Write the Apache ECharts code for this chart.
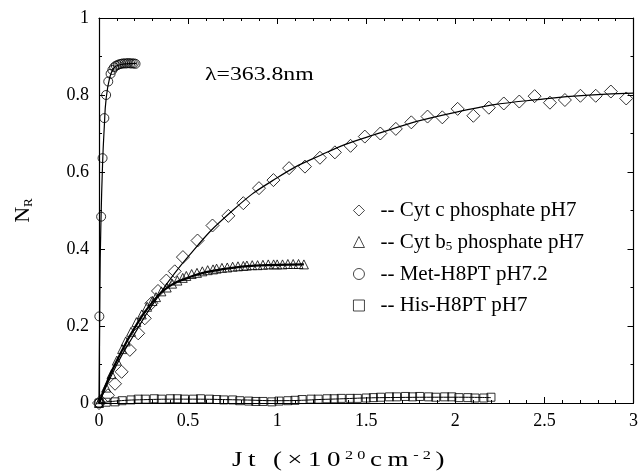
<!DOCTYPE html>
<html><head><meta charset="utf-8">
<script src="https://cdn.jsdelivr.net/npm/echarts@6/dist/echarts.min.js"></script>
<style>html,body{margin:0;padding:0;background:#fff}#c{width:641px;height:475px}</style>
</head><body><div id="c"></div>
<script>
// ---- data ----
const cytcX = [0.00,0.05,0.09,0.127,0.173,0.220,0.257,0.294,0.331,0.378,0.425,0.471,0.553,0.637,0.726,0.810,0.898,0.979,1.067,1.156,1.240,1.324,1.412,1.492,1.579,1.666,1.753,1.844,1.927,2.013,2.101,2.188,2.272,2.359,2.445,2.531,2.615,2.702,2.788,2.873,2.959];
const cytcY = [0.000,0.020,0.050,0.081,0.138,0.181,0.220,0.259,0.291,0.318,0.342,0.379,0.422,0.461,0.486,0.519,0.558,0.579,0.610,0.614,0.637,0.651,0.668,0.692,0.700,0.712,0.729,0.744,0.742,0.764,0.746,0.767,0.778,0.783,0.797,0.780,0.787,0.798,0.798,0.809,0.791];
const cytcFitX = [0,0.1,0.2,0.3,0.5,0.75,1.0,1.25,1.5,2.0,2.5,3.0];
const cytcFitY = [0,0.10,0.18,0.255,0.38,0.50,0.585,0.645,0.69,0.755,0.79,0.805];

const b5X = [0.00,0.01,0.04,0.07,0.10,0.13,0.15,0.18,0.21,0.24,0.27,0.30,0.32,0.35,0.38,0.41,0.44,0.47,0.49,0.52,0.55,0.58,0.61,0.64,0.66,0.69,0.72,0.75,0.78,0.81,0.83,0.86,0.89,0.92,0.95,0.98,1.00,1.03,1.06,1.09,1.12,1.15];
const b5Y = [0.000,0.010,0.040,0.075,0.110,0.140,0.160,0.185,0.210,0.230,0.250,0.265,0.275,0.290,0.300,0.310,0.318,0.325,0.330,0.335,0.338,0.342,0.345,0.347,0.349,0.351,0.352,0.354,0.355,0.356,0.357,0.358,0.358,0.359,0.360,0.360,0.360,0.360,0.361,0.361,0.361,0.360];
const b5FitX = [0,0.05,0.1,0.2,0.3,0.4,0.5,0.6,0.8,1.0,1.15];
const b5FitY = [0,0.06,0.11,0.195,0.262,0.305,0.325,0.340,0.354,0.359,0.360];

const metX = [0.000,0.002,0.012,0.020,0.030,0.040,0.052,0.065,0.075,0.085,0.095,0.105,0.115,0.125,0.135,0.145,0.155,0.165,0.175,0.185,0.195,0.205];
const metY = [0.000,0.225,0.484,0.636,0.740,0.800,0.835,0.855,0.865,0.872,0.876,0.878,0.880,0.881,0.882,0.882,0.882,0.883,0.882,0.882,0.882,0.881];
const metFitX = [0,0.005,0.01,0.02,0.03,0.04,0.06,0.08,0.10,0.15,0.21];
const metFitY = [0,0.30,0.45,0.62,0.72,0.79,0.845,0.868,0.876,0.881,0.882];

const hisX = [0.00,0.04,0.09,0.13,0.18,0.22,0.26,0.31,0.35,0.40,0.44,0.48,0.53,0.57,0.62,0.66,0.70,0.75,0.79,0.84,0.88,0.92,0.97,1.01,1.06,1.10,1.14,1.19,1.23,1.28,1.32,1.36,1.41,1.45,1.50,1.54,1.58,1.63,1.67,1.72,1.76,1.80,1.85,1.89,1.94,1.98,2.02,2.07,2.11,2.16,2.20];
const hisY = [0.000,0.002,0.003,0.006,0.008,0.010,0.010,0.011,0.010,0.011,0.011,0.010,0.010,0.011,0.010,0.009,0.008,0.008,0.006,0.005,0.004,0.004,0.003,0.005,0.006,0.007,0.009,0.010,0.010,0.011,0.011,0.012,0.012,0.012,0.013,0.014,0.015,0.016,0.016,0.017,0.016,0.017,0.016,0.015,0.016,0.016,0.014,0.014,0.013,0.013,0.015];
const hisFitX = [0,0.2,0.5,0.8,1.0,1.3,1.6,2.0,2.2];
const hisFitY = [0,0.008,0.010,0.008,0.006,0.010,0.014,0.015,0.014];

const seriesNames = ['-- Cyt c phosphate pH7','-- Cyt b{sub|5} phosphate pH7','-- Met-H8PT pH7.2','-- His-H8PT pH7'];
const annotation = 'λ=363.8nm';
const xTitleParts = [['c', 'Jt (×10'], ['sup', '20'], ['c', 'cm'], ['sup', '-2'], ['c', ')']];

// ---- chart ----
const pairs = (xs, ys) => xs.map((x, i) => [x, ys[i]]);
const FONT = 'Liberation Serif';
const BLACK = '#000';
const chart = echarts.init(document.getElementById('c'), null, {renderer: 'canvas'});

// letter-spaced title built from rich tokens, one per character
const xTitle = xTitleParts.map(([k, s]) => s.split('').map(ch => '{' + k + '|' + ch + '}').join('')).join('');

function xAx(pos, showLabel) {
  return {
    type: 'value', position: pos, min: 0, max: 3, interval: 0.5,
    axisLine: {show: true, onZero: false, lineStyle: {color: BLACK, width: 1.2}},
    axisTick: {show: true, inside: true, length: 6, lineStyle: {color: BLACK}},
    minorTick: {show: true, splitNumber: 5, length: 3, lineStyle: {color: BLACK}},
    splitLine: {show: false}, minorSplitLine: {show: false},
    axisLabel: {show: showLabel, color: BLACK, fontFamily: FONT, fontSize: 18, margin: 9}
  };
}
function yAx(pos, showLabel) {
  return {
    type: 'value', position: pos, min: 0, max: 1, interval: 0.2,
    axisLine: {show: true, onZero: false, lineStyle: {color: BLACK, width: 1.2}},
    axisTick: {show: true, inside: true, length: 6, lineStyle: {color: BLACK}},
    minorTick: {show: true, splitNumber: 2, length: 3, lineStyle: {color: BLACK}},
    splitLine: {show: false}, minorSplitLine: {show: false},
    axisLabel: {show: showLabel, color: BLACK, fontFamily: FONT, fontSize: 18, margin: 10}
  };
}
const yMain = yAx('left', true);
yMain.name = '{n|N}{s|R}';
yMain.nameLocation = 'middle';
yMain.nameRotate = 90;
yMain.nameGap = 64;
yMain.nameTextStyle = {color: BLACK, fontFamily: FONT,
  rich: {n: {fontSize: 22, fontFamily: FONT, color: BLACK},
         s: {fontSize: 13, fontFamily: FONT, color: BLACK, padding: [10, 0, 0, 0]}}};

const hollow = {color: 'rgba(0,0,0,0)', borderColor: BLACK, borderWidth: 1};

const option = {
  animation: false,
  backgroundColor: '#fff',
  grid: {left: 99, right: 5, top: 18, bottom: 72},
  xAxis: [xAx('bottom', true), xAx('top', false)],
  yAxis: [yMain, yAx('right', false)],
  legend: {
    orient: 'vertical', left: 348, top: 195, itemGap: 10.5,
    itemWidth: 11, itemHeight: 11,
    data: seriesNames,
    itemStyle: {color: 'rgba(0,0,0,0)', borderColor: BLACK, borderWidth: 0.9},
    textStyle: {color: BLACK, fontFamily: FONT, fontSize: 21, lineHeight: 21, padding: [0, 0, 0, 11],
      rich: {sub: {fontSize: 13, fontFamily: FONT, color: BLACK, padding: [9, 0, 0, 0]}}}
  },
  graphic: [
    {type: 'text', left: 205, top: 66, scaleX: 1.25,
     style: {text: annotation, font: '19px "Liberation Serif"', fill: BLACK}},
    {type: 'text', left: 232, top: 450, scaleX: 1.35,
     style: {text: xTitle, font: '20px "Liberation Serif"', fill: BLACK,
       rich: {c: {fontSize: 20, fontFamily: FONT, fill: BLACK, color: BLACK, padding: [0, 2, 0, 2]},
              sup: {fontSize: 12, fontFamily: FONT, fill: BLACK, color: BLACK, padding: [0, 1.5, 10, 1.5]}}}}
  ],
  series: [
    {type: 'line', data: pairs(cytcFitX, cytcFitY), smooth: true, symbol: 'none', silent: true,
     lineStyle: {color: BLACK, width: 1.2}, z: 2},
    {type: 'line', data: pairs(b5FitX, b5FitY), smooth: true, symbol: 'none', silent: true,
     lineStyle: {color: BLACK, width: 2.2}, z: 2},
    {type: 'line', data: pairs(metFitX, metFitY), smooth: true, symbol: 'none', silent: true,
     lineStyle: {color: BLACK, width: 1.2}, z: 2},
    {type: 'line', data: pairs(hisFitX, hisFitY), smooth: true, symbol: 'none', silent: true,
     lineStyle: {color: BLACK, width: 1}, z: 2},
    {name: seriesNames[0], type: 'scatter', data: pairs(cytcX, cytcY), symbol: 'diamond', symbolSize: 13, itemStyle: hollow, z: 3},
    {name: seriesNames[1], type: 'scatter', data: pairs(b5X, b5Y), symbol: 'triangle', symbolSize: 9, itemStyle: hollow, z: 3},
    {name: seriesNames[2], type: 'scatter', data: pairs(metX, metY), symbol: 'circle', symbolSize: 9, itemStyle: hollow, z: 3},
    {name: seriesNames[3], type: 'scatter', data: pairs(hisX, hisY), symbol: 'rect', symbolSize: 8, itemStyle: hollow, z: 3}
  ]
};
chart.setOption(option);
</script>
</body></html>
